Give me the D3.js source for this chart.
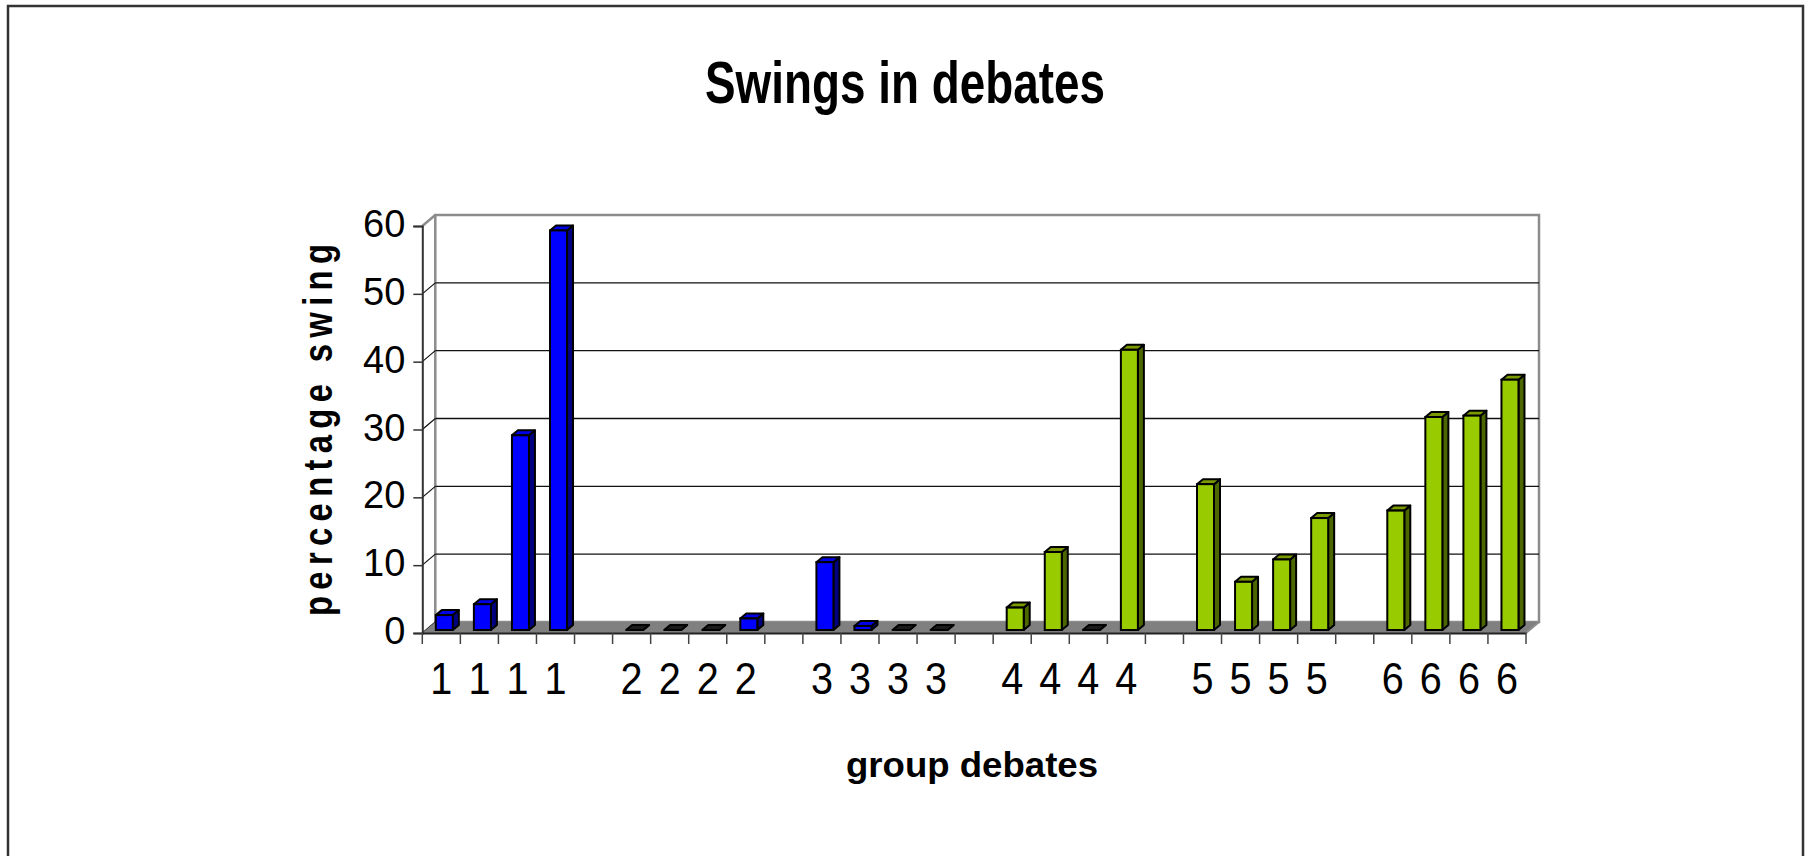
<!DOCTYPE html>
<html>
<head>
<meta charset="utf-8">
<script src="https://cdn.jsdelivr.net/npm/d3@7"></script>
<style>
  html, body { margin: 0; padding: 0; background: #fff; }
  svg { display: block; font-family: "Liberation Sans", Arial, sans-serif; }
</style>
</head>
<body>
<svg id="chart" width="1811" height="856"></svg>
<script>
// Percentage swing per debate, four debates per group
const groupLabels = ["1", "2", "3", "4", "5", "6"];
const group1 = [2.2, 3.8, 28.7, 58.9];
const group2 = [0, 0, 0, 1.7];
const group3 = [10.0, 0.6, 0, 0];
const group4 = [3.3, 11.5, 0, 41.3];
const group5 = [21.5, 7.1, 10.4, 16.5];
const group6 = [17.6, 31.4, 31.6, 36.9];
const groupColors = ["blue", "blue", "blue", "green", "green", "green"];
const yTicks = [0, 10, 20, 30, 40, 50, 60];

const groups = [group1, group2, group3, group4, group5, group6];

// Flatten into a category list with an empty slot between groups
const categories = [];
groups.forEach((vals, g) => {
  if (g > 0) categories.push({ label: "", value: null, color: null });
  vals.forEach(v => categories.push({ label: groupLabels[g], value: v, color: groupColors[g] }));
});

const palette = {
  blue:  { front: "#0000ff", top: "#0000e6", side: "#000080" },
  green: { front: "#99cc00", top: "#7a9a00", side: "#4c6600" }
};

const svg = d3.select("#chart");

// Outer frame
svg.append("rect")
  .attr("x", 8).attr("y", 6).attr("width", 1795).attr("height", 900)
  .attr("fill", "none").attr("stroke", "#333").attr("stroke-width", 2.5);

const x = d3.scaleBand().domain(d3.range(categories.length)).range([422.3, 1526]);
const y = d3.scaleLinear().domain([0, 60]).range([633, 226]);

// Wall depth offset
const DX = 13, DY = -11;
const x0 = x.range()[0], x1 = x.range()[1];
const y0 = y(0), yTop = y(60);

// Back wall
svg.append("rect")
  .attr("x", x0 + DX).attr("y", yTop + DY)
  .attr("width", x1 - x0).attr("height", y0 - yTop)
  .attr("fill", "#fff").attr("stroke", "#8c8c8c").attr("stroke-width", 2.5);

// Gridlines on back wall
svg.append("g").selectAll("line")
  .data(yTicks.filter(v => v > 0 && v < 60))
  .join("line")
  .attr("x1", x0 + DX).attr("x2", x1 + DX)
  .attr("y1", d => y(d) + DY).attr("y2", d => y(d) + DY)
  .attr("stroke", "#111").attr("stroke-width", 1.4);

// Side wall diagonals
svg.append("g").selectAll("line")
  .data(yTicks)
  .join("line")
  .attr("x1", x0).attr("x2", x0 + DX)
  .attr("y1", d => y(d)).attr("y2", d => y(d) + DY)
  .attr("stroke", d => d === 60 ? "#8c8c8c" : "#111")
  .attr("stroke-width", d => d === 60 ? 2.5 : 1.2);

// Floor
svg.append("polygon")
  .attr("points", [[x0, y0], [x1, y0], [x1 + DX, y0 + DY], [x0 + DX, y0 + DY]].map(p => p.join(",")).join(" "))
  .attr("fill", "#808080");
svg.append("line")
  .attr("x1", x1).attr("y1", y0).attr("x2", x1 + DX).attr("y2", y0 + DY)
  .attr("stroke", "#8c8c8c").attr("stroke-width", 2);

// Value axis
const yAxis = d3.axisLeft(y).tickValues(yTicks).tickSize(9).tickPadding(8).tickFormat(d3.format("d"));
const gy = svg.append("g").attr("transform", `translate(${x0},0)`).call(yAxis);
gy.select(".domain").attr("stroke", "#333").attr("stroke-width", 2);
gy.selectAll(".tick line").attr("stroke", "#333").attr("stroke-width", 1.5);
gy.selectAll(".tick text")
  .attr("font-size", 38).attr("fill", "#000")
  .attr("font-family", "Liberation Sans, Arial, sans-serif")
  .attr("dy", "0.28em");

// Category axis
const xAxis = d3.axisBottom(x).tickSize(0).tickPadding(30).tickFormat(i => categories[i].label);
const gx = svg.append("g").attr("transform", `translate(0,${y0})`).call(xAxis);
gx.select(".domain").attr("stroke", "#222").attr("stroke-width", 2);
gx.selectAll(".tick text")
  .attr("font-size", 44).attr("fill", "#000")
  .attr("font-family", "Liberation Sans, Arial, sans-serif")
  .attr("transform", "scale(0.9,1)");
// Tick marks at category boundaries
gx.append("g").selectAll("line")
  .data(d3.range(categories.length + 1))
  .join("line")
  .attr("x1", i => x0 + i * x.bandwidth()).attr("x2", i => x0 + i * x.bandwidth())
  .attr("y1", 0).attr("y2", 11)
  .attr("stroke", "#444").attr("stroke-width", 1.5);

// 3D bars
const bw = 17, bdx = 6, bdy = -5, shiftX = 3, shiftY = -3;
const bars = svg.append("g")
  .selectAll("g")
  .data(categories.map((c, i) => ({ ...c, i })).filter(c => c.value !== null))
  .join("g");

bars.each(function (d) {
  const g = d3.select(this);
  const col = palette[d.color];
  const bx = x(d.i) + x.bandwidth() / 2 + shiftX - bw / 2;
  const yb = y(0) + shiftY;
  const yt = y(d.value) + shiftY;
  const pts = a => a.map(p => p.join(",")).join(" ");
  g.append("polygon")
    .attr("points", pts([[bx + bw, yt], [bx + bw + bdx, yt + bdy], [bx + bw + bdx, yb + bdy], [bx + bw, yb]]))
    .attr("fill", col.side).attr("stroke", "#000").attr("stroke-width", 2).attr("stroke-linejoin", "round");
  g.append("polygon")
    .attr("points", pts([[bx, yt], [bx + bdx, yt + bdy], [bx + bw + bdx, yt + bdy], [bx + bw, yt]]))
    .attr("fill", d.value > 0 ? col.top : "#1a1a1a").attr("stroke", "#000").attr("stroke-width", 2).attr("stroke-linejoin", "round");
  g.append("rect")
    .attr("x", bx).attr("y", yt).attr("width", bw).attr("height", yb - yt)
    .attr("fill", col.front).attr("stroke", "#000").attr("stroke-width", 2);
});

// Titles
svg.append("text")
  .attr("x", 905).attr("y", 103)
  .attr("text-anchor", "middle")
  .attr("font-size", 60).attr("font-weight", "bold")
  .attr("textLength", 400).attr("lengthAdjust", "spacingAndGlyphs")
  .text("Swings in debates");

svg.append("text")
  .attr("x", 972).attr("y", 777)
  .attr("text-anchor", "middle")
  .attr("font-size", 35).attr("font-weight", "bold")
  .attr("textLength", 252).attr("lengthAdjust", "spacingAndGlyphs")
  .text("group debates");

// Rotated value-axis title: narrow glyphs, wide letter spacing
svg.append("text")
  .attr("transform", "translate(332,430) rotate(-90) scale(0.82,1)")
  .attr("text-anchor", "middle")
  .attr("font-size", 40).attr("font-weight", "bold")
  .attr("textLength", 372 / 0.82).attr("lengthAdjust", "spacing")
  .text("percentage swing");
</script>
</body>
</html>
